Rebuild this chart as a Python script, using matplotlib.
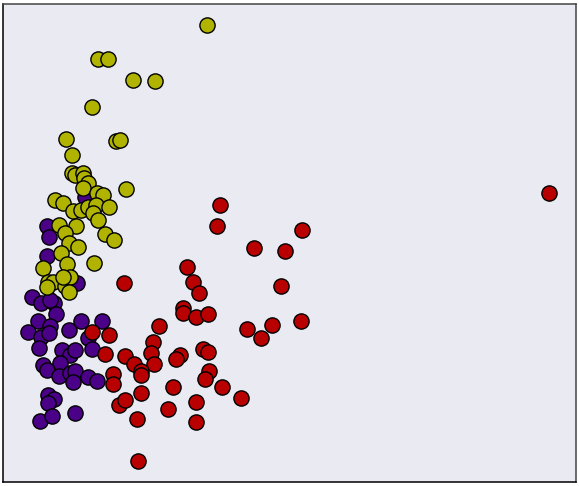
import matplotlib
matplotlib.use("Agg")
import matplotlib.pyplot as plt

# valeurs (unites arbitraires, y vers le bas)
jaune_x = [207, 98, 108, 133, 155, 92, 66, 116, 120, 72,
           72, 75, 83, 84, 88, 83, 97, 103, 126,
           55, 63, 73, 81, 88, 96, 109, 93, 98,
           59, 76, 65, 105, 114, 69, 78, 61, 94, 67,
           43, 48, 53, 65, 70, 63, 69, 47]
jaune_y = [25, 59, 59, 80, 81, 107, 139, 141, 140, 155,
           173, 175, 173, 178, 183, 188, 193, 195, 189,
           200, 203, 211, 210, 207, 205, 207, 213, 220,
           225, 226, 233, 234, 240, 243, 247, 253, 263, 264,
           268, 282, 282, 286, 277, 277, 292, 287]

violet_x = [85, 47, 49, 47, 77, 32, 41, 54, 50, 56, 38, 50, 28, 41, 49, 69, 81, 102,
            88, 39, 62, 70, 75, 92, 43, 60, 47, 59, 70, 75, 73, 88, 97, 48, 54, 48,
            40, 52, 75]
violet_y = [197, 226, 237, 256, 283, 297, 303, 303, 300, 314, 321, 326, 332, 337, 333,
            330, 321, 321, 338, 348, 350, 355, 350, 349, 365, 363, 370, 376, 373, 371,
            382, 377, 381, 395, 399, 403, 421, 416, 413]

rouge_x = [549, 220, 217, 302, 254, 285, 187, 193, 199, 281, 124, 183, 183, 196, 208,
           159, 247, 272, 261, 301, 92, 109, 153, 151, 154, 125, 105, 134, 141, 141,
           180, 176, 203, 208, 209, 205, 222, 241, 113, 113, 141, 173, 196, 168, 196,
           119, 125, 137, 138]
rouge_y = [193, 205, 226, 230, 248, 251, 267, 282, 293, 286, 283, 308, 313, 317, 314,
           326, 329, 325, 338, 321, 332, 335, 342, 353, 364, 356, 354, 364, 371, 375,
           355, 359, 349, 352, 371, 379, 387, 398, 374, 384, 393, 387, 402, 409, 422,
           405, 400, 419, 461]

fig = plt.figure(figsize=(5.79, 4.86), dpi=100)
ax = fig.add_axes([3 / 579, 4 / 486, 573 / 579, 478 / 486])
ax.set_facecolor("#EAEAF2")

style = dict(s=120, edgecolors="black", linewidths=1.0)
ax.scatter(violet_x, violet_y, c="#4B0088", **style)
ax.scatter(jaune_x, jaune_y, c="#B0B400", **style)
ax.scatter(rouge_x, rouge_y, c="#B80000", **style)

ax.set_xlim(3, 576)
ax.set_ylim(482, 4)
ax.set_xticks([])
ax.set_yticks([])
for cote, sp in ax.spines.items():
    sp.set_linewidth(1.1)
    sp.set_color("black" if cote in ("left", "bottom") else "#444444")

plt.savefig("out.png", dpi=100)
plt.close()
